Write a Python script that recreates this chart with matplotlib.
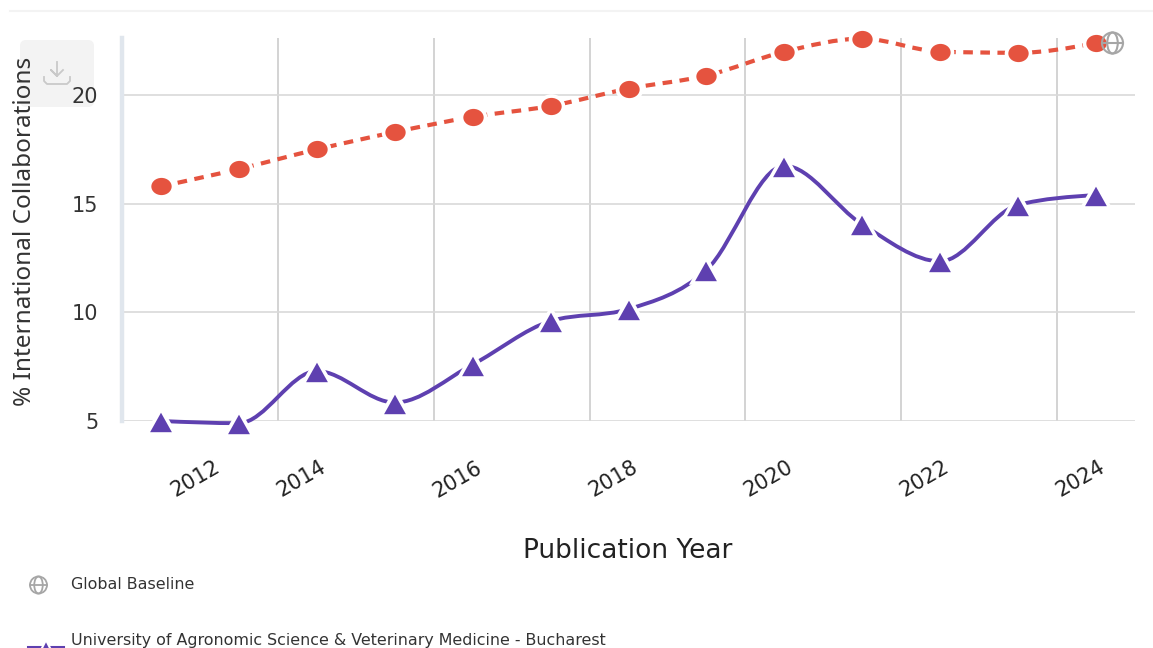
import numpy as np
import matplotlib
matplotlib.use('Agg')
import matplotlib.pyplot as plt
from matplotlib.markers import MarkerStyle
from matplotlib.patches import Circle, Ellipse, FancyBboxPatch, PathPatch
from matplotlib.path import Path
from matplotlib.transforms import Affine2D

plt.rcParams['font.family'] = ['DejaVu Sans']

years = [2012, 2013, 2014, 2015, 2016, 2017, 2018, 2019, 2020, 2021, 2022, 2023, 2024]
baseline = [15.8, 16.6, 17.5, 18.3, 19.0, 19.5, 20.3, 20.9, 22.0, 22.6, 22.0, 21.95, 22.4]
university = [5.0, 4.9, 7.3, 5.85, 7.6, 9.6, 10.15, 11.95, 16.75, 14.05, 12.35, 14.95, 15.4]

y_ticks = [5, 10, 15, 20]
x_grid = [2013.5, 2015.5, 2017.5, 2019.5, 2021.5, 2023.5]
x_label_pos = [2012.44, 2013.8, 2015.8, 2017.8, 2019.8, 2021.8, 2023.8]
x_labels = ['2012', '2014', '2016', '2018', '2020', '2022', '2024']

RED = '#e5533f'
PURPLE = '#5e40b0'
W, H = 1153, 648


def smooth_path(xs, ys):
    # monotone cubic bezier through the points, evenly spaced x
    ys = np.array(ys, dtype=float)
    s = np.diff(ys)
    t = np.zeros(len(ys))
    for i in range(1, len(ys) - 1):
        p = (s[i - 1] + s[i]) / 2
        t[i] = (np.sign(s[i - 1]) + np.sign(s[i])) * min(abs(s[i - 1]), abs(s[i]), 0.5 * abs(p))
    t[0] = (3 * s[0] - t[1]) / 2
    t[-1] = (3 * s[-1] - t[-2]) / 2
    verts = [(xs[0], ys[0])]
    codes = [Path.MOVETO]
    for i in range(len(xs) - 1):
        d = (xs[i + 1] - xs[i]) / 3
        verts += [(xs[i] + d, ys[i] + t[i] * d),
                  (xs[i + 1] - d, ys[i + 1] - t[i + 1] * d),
                  (xs[i + 1], ys[i + 1])]
        codes += [Path.CURVE4] * 3
    return Path(verts, codes)


fig = plt.figure(figsize=(W / 100, H / 100), dpi=100)

# full-figure layer in pixels for the page furniture
bg = fig.add_axes([0, 0, 1, 1], zorder=0)
bg.set_xlim(0, W)
bg.set_ylim(H, 0)
bg.axis('off')

ax = fig.add_axes([122 / W, (H - 421) / H, (1135 - 122) / W, (421 - 38) / H], zorder=1)
ax.patch.set_alpha(0)
ax.set_xlim(2011.5, 2024.5)
ax.set_ylim(5, 22.63)
for s in ['top', 'right', 'bottom']:
    ax.spines[s].set_visible(False)
ax.spines['left'].set_color('#e0e6ed')
ax.spines['left'].set_linewidth(3.2)

ax.set_yticks(y_ticks)
ax.set_xticks(x_label_pos)
ax.set_xticklabels(x_labels, rotation=30, ha='center')
ax.tick_params(axis='y', length=0, pad=17, labelsize=15, labelcolor='#333333')
ax.tick_params(axis='x', length=0, pad=26, labelsize=15, labelcolor='#222222')
ax.grid(axis='y', color='#d9d9d9', linewidth=1.2)
ax.vlines(x_grid, 5, 22.63, color='#d3d3d3', linewidth=1.4, zorder=1)

ax.add_patch(PathPatch(smooth_path(years, baseline), fill=False, edgecolor=RED, linewidth=3,
                       linestyle=(0, (2.3, 1.8)), capstyle='butt', zorder=3, clip_on=False))
ax.add_patch(PathPatch(smooth_path(years, university), fill=False, edgecolor=PURPLE, linewidth=2.8,
                       capstyle='round', zorder=3, clip_on=False))

oval = MarkerStyle('o', transform=Affine2D().scale(1.15, 1.0))
ax.plot(years, baseline, linestyle='none', marker=oval, markersize=15, markerfacecolor=RED,
        markeredgecolor='white', markeredgewidth=2.6, clip_on=False, zorder=4)
tri = MarkerStyle('^', transform=Affine2D().scale(1.1, 1.0))
ax.plot(years, university, linestyle='none', marker=tri, markersize=18, markerfacecolor=PURPLE,
        markeredgecolor='white', markeredgewidth=2.6, clip_on=False, zorder=4)

ax.set_xlabel('Publication Year', fontsize=19, color='#222222')
ax.xaxis.set_label_coords((628 - 122) / (1135 - 122), -(551 - 421) / (421 - 38))
ax.xaxis.label.set_va('center')
ax.set_ylabel('% International Collaborations', fontsize=17.5, family=['Noto Sans', 'DejaVu Sans'],
              color='#333333')
ax.yaxis.set_label_coords((25 - 122) / (1135 - 122), (421 - 231) / (421 - 38))
ax.yaxis.label.set_va('center')

# top rule and download button
bg.plot([10, W], [11, 11], color='#f3f3f3', linewidth=1.5)
bg.add_patch(FancyBboxPatch((24, 44), 66, 59, boxstyle='round,pad=4,rounding_size=6',
                            facecolor='#f3f3f3', edgecolor='none'))
bg.plot([57, 57, 51, 57, 63], [62, 76, 70, 76, 70], color='#c9c9c9', linewidth=1.3)
bg.plot([44, 44, 47, 67, 70, 70], [77, 81, 84, 84, 81, 77], color='#c9c9c9', linewidth=1.3)


def globe(axis, cx, cy, r, lw, zorder):
    axis.add_patch(Circle((cx, cy), r, fill=False, edgecolor='#a6a6a6', linewidth=lw, zorder=zorder))
    axis.add_patch(Ellipse((cx, cy), r, 2 * r, fill=False, edgecolor='#a6a6a6', linewidth=lw, zorder=zorder))
    axis.plot([cx - r, cx + r], [cy, cy], color='#a6a6a6', linewidth=lw, zorder=zorder)


top = fig.add_axes([0, 0, 1, 1], zorder=2)
top.set_xlim(0, W)
top.set_ylim(H, 0)
top.axis('off')
globe(top, 1112.5, 43, 10.5, 1.5, 5)
globe(top, 38.5, 585, 8.5, 1.3, 5)

# legend
top.text(71, 584.5, 'Global Baseline', fontsize=11.4, color='#333333', va='center')
top.text(71, 640, 'University of Agronomic Science & Veterinary Medicine - Bucharest',
         fontsize=11.4, color='#333333', va='center')
top.plot([28, 63], [646.5, 646.5], color=PURPLE, linewidth=2.2, clip_on=True)
top.plot([45.5], [646], marker='^', markersize=9, markerfacecolor=PURPLE,
         markeredgecolor='white', markeredgewidth=1.5, clip_on=True)

plt.savefig('out.png', dpi=100)
